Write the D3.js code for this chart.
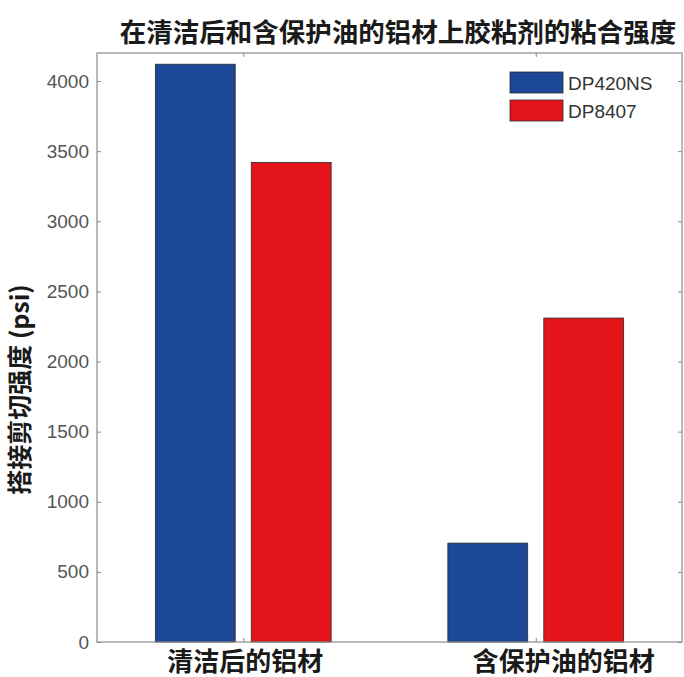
<!DOCTYPE html>
<html>
<head>
    <meta charset="utf-8">
    <title>粘合强度</title>
    <script src="https://d3js.org/d3.v7.min.js"></script>
    <style>
        html, body { margin: 0; padding: 0; background: #fff; }
        .cjk { font-family: "Noto Sans CJK SC", sans-serif; font-weight: bold; fill: #1a1a1a; }
        .tick text { font-family: "Liberation Sans", Arial, sans-serif; }
    </style>
</head>
<body>
<div id="chart"></div>
<script>
    // data
    const categories = ["清洁后的铝材", "含保护油的铝材"];
    const seriesNames = ["DP420NS", "DP8407"];
    const dp420ns = [4120, 705];
    const dp8407 = [3420, 2310];
    const yTicks = [0, 500, 1000, 1500, 2000, 2500, 3000, 3500, 4000];
    const colors = ["#1d4799", "#e4141b"];

    const W = 684, H = 677;
    const margin = { top: 53, right: 2, bottom: 35, left: 97 };
    const width = W - margin.left - margin.right,
          height = H - margin.top - margin.bottom;

    const svg = d3.select("#chart").append("svg")
        .attr("width", W).attr("height", H);

    const g = svg.append("g")
        .attr("transform", `translate(${margin.left},${margin.top})`);

    // x: MATLAB-like numeric positions 1..n, limits 0.5..n+0.5
    const x = d3.scaleLinear().domain([0.5, categories.length + 0.5]).range([0, width]);
    const y = d3.scaleLinear().domain([0, 4200]).range([height, 0]);

    const barW = 0.273, barOff = 0.164;
    const series = [dp420ns, dp8407];

    series.forEach((vals, s) => {
        g.selectAll("rect.s" + s)
            .data(vals)
            .enter().append("rect")
            .attr("class", "s" + s)
            .attr("x", (d, i) => x(i + 1 + (s === 0 ? -barOff : barOff) - barW / 2))
            .attr("width", x(barW) - x(0))
            .attr("y", d => y(d))
            .attr("height", d => y(0) - y(d))
            .attr("fill", colors[s])
            .attr("stroke", "#2a2a2a")
            .attr("stroke-width", 0.8);
    });

    // box
    g.append("rect")
        .attr("width", width).attr("height", height)
        .attr("fill", "none").attr("stroke", "#8a8a8a").attr("stroke-width", 1.2);

    // left axis, ticks inward
    const yAxis = g.append("g")
        .call(d3.axisLeft(y).tickValues(yTicks).tickSize(-4).tickPadding(8).tickFormat(d3.format("d")));
    yAxis.select(".domain").remove();
    yAxis.selectAll(".tick line").attr("stroke", "#8a8a8a");
    yAxis.selectAll(".tick text").attr("fill", "#555").style("font-size", "19px");

    // right axis ticks
    const yAxisR = g.append("g").attr("transform", `translate(${width},0)`)
        .call(d3.axisRight(y).tickValues(yTicks).tickSize(-4).tickFormat(""));
    yAxisR.select(".domain").remove();
    yAxisR.selectAll(".tick line").attr("stroke", "#8a8a8a");

    // top/bottom category ticks
    [0, height].forEach(yy => {
        const ax = g.append("g").attr("transform", `translate(0,${yy})`)
            .call((yy === 0 ? d3.axisTop(x) : d3.axisBottom(x))
                .tickValues([1, 2]).tickSize(-4).tickFormat(""));
        ax.select(".domain").remove();
        ax.selectAll(".tick line").attr("stroke", "#8a8a8a");
    });

    // category labels
    const labelDx = [2, 28];
    g.selectAll("text.cat")
        .data(categories)
        .enter().append("text")
        .attr("class", "cat cjk")
        .attr("x", (d, i) => x(i + 1) + labelDx[i])
        .attr("y", height + 29)
        .attr("text-anchor", "middle")
        .style("font-size", "26px")
        .text(d => d);

    // title
    svg.append("text")
        .attr("class", "cjk")
        .attr("x", 398).attr("y", 42)
        .attr("text-anchor", "middle")
        .style("font-size", "26.5px")
        .text("在清洁后和含保护油的铝材上胶粘剂的粘合强度");

    // y label
    svg.append("text")
        .attr("class", "cjk")
        .attr("transform", `translate(29,${margin.top + height / 2 + 42}) rotate(-90)`)
        .attr("text-anchor", "middle")
        .style("font-size", "25px")
        .text("搭接剪切强度 (psi)");

    // legend
    const legend = g.append("g").attr("transform", `translate(${width - 172}, 19)`);
    seriesNames.forEach((name, i) => {
        const row = legend.append("g").attr("transform", `translate(0, ${i * 28})`);
        row.append("rect")
            .attr("width", 53).attr("height", 21)
            .attr("fill", colors[i]).attr("stroke", "#2a2a2a").attr("stroke-width", 0.8);
        row.append("text")
            .attr("x", 58).attr("y", 18)
            .text(name)
            .style("font-size", "19px")
            .style("font-family", "Liberation Sans, Arial, sans-serif")
            .style("fill", "#333");
    });
</script>
</body>
</html>
